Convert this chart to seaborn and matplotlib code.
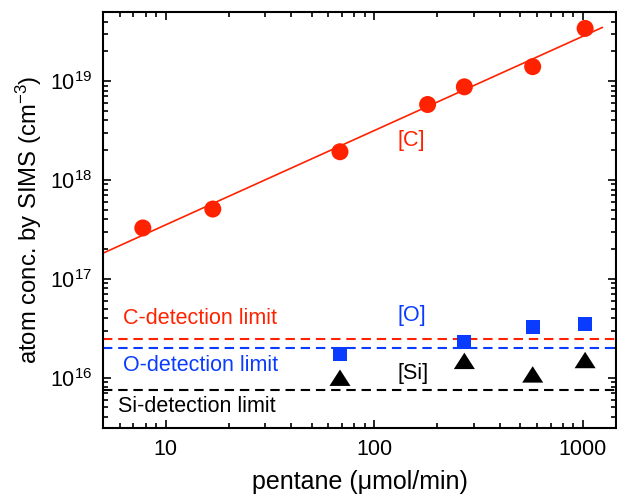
import numpy as np
import pandas as pd
import matplotlib
matplotlib.use("Agg")
import matplotlib.pyplot as plt
import seaborn as sns
from matplotlib.ticker import LogLocator, NullFormatter, FuncFormatter

# ---- data ----
c_x = [7.76, 16.8, 68.4, 180, 270, 574, 1024]
c_y = [3.27e17, 5.08e17, 1.93e18, 5.8e18, 8.75e18, 1.40e19, 3.41e19]
o_x = [68.4, 270, 574, 1024]
o_y = [1.74e16, 2.28e16, 3.28e16, 3.49e16]
si_x = [68.4, 270, 574, 1024]
si_y = [1.00e16, 1.48e16, 1.08e16, 1.51e16]
c_limit = 2.44e16
o_limit = 2.01e16
si_limit = 7.46e15
fit_range = [5.0, 1240]

RED = "#ff2200"
BLUE = "#0a3cff"
BLACK = "#000000"

sns.set_style("ticks", {"axes.edgecolor": "black", "text.color": "black",
                        "axes.labelcolor": "black", "xtick.color": "black",
                        "ytick.color": "black"})
plt.rcParams["font.family"] = ["Liberation Sans", "DejaVu Sans"]
plt.rcParams["mathtext.fontset"] = "custom"
plt.rcParams["mathtext.rm"] = "Liberation Sans"
plt.rcParams["mathtext.it"] = "Liberation Sans:italic"

fig = plt.figure(figsize=(6.17, 4.96), dpi=100)
ax = fig.add_axes([103/617, 1-428/496, 513/617, 416/496])

# fit line (power-law fit of [C] data)
p = np.polyfit(np.log10(c_x), np.log10(c_y), 1)
fx = np.logspace(np.log10(fit_range[0]), np.log10(fit_range[1]), 50)
fy = 10 ** np.polyval(p, np.log10(fx))
sns.lineplot(x=fx, y=fy, ax=ax, color=RED, lw=1.2, zorder=2)

# detection limits
dash = (4.5, 2.8)
ax.axhline(c_limit, color=RED, lw=1.5, dashes=dash, zorder=1)
ax.axhline(o_limit, color=BLUE, lw=1.5, dashes=dash, zorder=1)
ax.axhline(si_limit, color=BLACK, lw=1.5, dashes=dash, zorder=1)

tri = [(-1, -0.78), (1, -0.78), (0, 0.78)]
sns.scatterplot(x=c_x, y=c_y, ax=ax, marker="o", s=150, color=RED, edgecolor="none", zorder=3)
sns.scatterplot(x=o_x, y=o_y, ax=ax, marker="s", s=100, color=BLUE, edgecolor="none", zorder=3)
sns.scatterplot(x=si_x, y=si_y, ax=ax, marker=tri, s=230, color=BLACK, edgecolor="none", zorder=3)

ax.set_xscale("log")
ax.set_yscale("log")
ax.set_xlim(5.0, 1440)
ax.set_ylim(3.1e15, 5e19)

# annotations
ax.text(150.7, 2.53e18, "[C]", color=RED, fontsize=15.5, ha="center", va="center")
ax.text(150.7, 4.3e16, "[O]", color=BLUE, fontsize=15.5, ha="center", va="center")
ax.text(152.7, 1.11e16, "[Si]", color=BLACK, fontsize=15.5, ha="center", va="center")
ax.text(6.22, 3.93e16, "C-detection limit", color=RED, fontsize=15.5, ha="left", va="center")
ax.text(6.22, 1.34e16, "O-detection limit", color=BLUE, fontsize=15.5, ha="left", va="center")
ax.text(5.89, 5.1e15, "Si-detection limit", color=BLACK, fontsize=15.5, ha="left", va="center")

# axes styling
for s in ax.spines.values():
    s.set_linewidth(1.5)
    s.set_color("black")
    s.set_visible(True)
ax.xaxis.set_major_locator(LogLocator(base=10, numticks=10))
ax.xaxis.set_minor_locator(LogLocator(base=10, subs=np.arange(2, 10), numticks=20))
ax.yaxis.set_major_locator(LogLocator(base=10, numticks=10))
ax.yaxis.set_minor_locator(LogLocator(base=10, subs=np.arange(2, 10), numticks=20))
ax.xaxis.set_major_formatter(FuncFormatter(lambda v, pos: f"{v:g}"))
ax.xaxis.set_minor_formatter(NullFormatter())
ax.yaxis.set_minor_formatter(NullFormatter())
ax.tick_params(which="both", direction="in", top=True, right=True, width=1.2,
               color="black", labelcolor="black")
ax.tick_params(which="major", length=6, labelsize=15.5, pad=8)
ax.tick_params(which="minor", length=3.5)

ax.set_xlabel("pentane (\u03bcmol/min)", fontsize=18, labelpad=7, color="black")
ax.set_ylabel("atom conc. by SIMS (cm$^{-3}$)", fontsize=17.2, labelpad=4, color="black")

fig.savefig("out.png", dpi=100)
